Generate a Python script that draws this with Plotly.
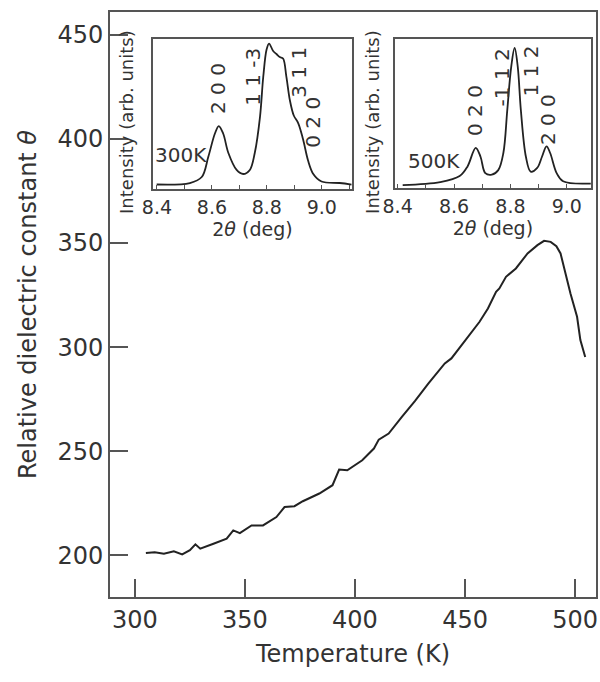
import plotly.graph_objects as go

# Main curve: relative dielectric constant vs temperature
temp_K = [305, 309, 313.2, 317.7, 321.5, 325, 327.5, 329.7, 335.7, 341.7, 344.7, 347.7,
          353, 358.2, 364.3, 368, 372.5, 376.3, 383.8, 389.8, 392.8, 396.5, 403.3,
          408.6, 410.8, 415.3, 421.3, 427.3, 433.3, 440.8, 443.8, 451.4, 456.6,
          460.4, 464.1, 465.6, 468.6, 473.1, 478.4, 482.9, 485.9, 488.9, 491.5,
          493.4, 494.9, 497.9, 500.9, 502.4, 504.6]
dielectric = [201.1, 201.5, 200.8, 202, 200.5, 202.5, 205.3, 203.2, 205.6, 208, 212, 210.7,
              214.4, 214.4, 218.4, 223.2, 223.6, 226, 229.7, 233.7, 241.2, 240.9, 245.7,
              251.3, 255.6, 258.5, 266.5, 274.2, 282.5, 292.2, 294.6, 305, 312.2,
              318.6, 326.6, 328.2, 333.8, 337.8, 345, 349, 351.1, 350.6, 348.5,
              345, 338.6, 325.8, 314.6, 303.4, 295.3]

# Inset 1: XRD profile at 300 K
two_theta_300 = [8.399, 8.52, 8.563, 8.587, 8.611, 8.625, 8.641, 8.66, 8.69, 8.714, 8.738,
                 8.756, 8.775, 8.787, 8.799, 8.808, 8.823, 8.835, 8.847, 8.859, 8.871,
                 8.884, 8.898, 8.914, 8.932, 8.95, 8.969, 8.999, 9.065, 9.108]
intensity_300 = [0.03, 0.04, 0.08, 0.215, 0.37, 0.42, 0.37, 0.24, 0.127, 0.1, 0.127,
                 0.24, 0.48, 0.75, 0.93, 0.97, 0.92, 0.90, 0.88, 0.87, 0.75,
                 0.59, 0.49, 0.44, 0.33, 0.19, 0.10, 0.05, 0.04, 0.03]

# Inset 2: XRD profile at 500 K
two_theta_500 = [8.418, 8.551, 8.62, 8.648, 8.677, 8.694, 8.711, 8.734, 8.757, 8.775, 8.789,
                 8.803, 8.815, 8.826, 8.837, 8.855, 8.872, 8.895, 8.912, 8.928, 8.941,
                 8.964, 8.987, 9.085]
intensity_500 = [0.02, 0.04, 0.08, 0.145, 0.27, 0.21, 0.10, 0.09, 0.12, 0.235, 0.525,
                 0.815, 0.94, 0.815, 0.525, 0.21, 0.11, 0.135, 0.21, 0.28, 0.235,
                 0.10, 0.045, 0.03]

peaks_300 = ["2 0 0", "1 1 -3", "3 1 1", "0 2 0"]
peaks_300_x = [8.622, 8.749, 8.916, 8.967]
peaks_300_y = [0.673, 0.747, 0.78, 0.447]

peaks_500 = ["0 2 0", "-1 1 2", "1 1 2", "2 0 0"]
peaks_500_x = [8.672, 8.769, 8.872, 8.934]
peaks_500_y = [0.519, 0.74, 0.787, 0.457]

inset_ticks = [8.4, 8.6, 8.8, 9.0]
inset_ticktext = ["8.4", "8.6", "8.8", "9.0"]

FONT = "DejaVu Sans, Verdana, sans-serif"
TXT = "#333333"
AX = "#555555"

fig = go.Figure()
fig.add_trace(go.Scatter(x=temp_K, y=dielectric, mode="lines",
                         line=dict(color="#222222", width=2), xaxis="x", yaxis="y",
                         showlegend=False))
fig.add_trace(go.Scatter(x=two_theta_300, y=intensity_300, mode="lines",
                         line=dict(color="#222222", width=1.8, shape="spline"),
                         xaxis="x2", yaxis="y2", showlegend=False))
fig.add_trace(go.Scatter(x=two_theta_500, y=intensity_500, mode="lines",
                         line=dict(color="#222222", width=1.8, shape="spline"),
                         xaxis="x3", yaxis="y3", showlegend=False))

main_ax = dict(showline=True, linecolor=AX, linewidth=2, mirror=True, ticks="inside",
               ticklen=18, tickwidth=2, tickcolor=AX, showgrid=False, zeroline=False,
               tickfont=dict(family=FONT, size=24, color=TXT))
inset_x = dict(showline=True, linecolor=AX, linewidth=1.5, mirror=True, ticks="inside",
               ticklen=4, tickwidth=1, tickcolor=AX, showgrid=False, zeroline=False,
               tickvals=inset_ticks, ticktext=inset_ticktext,
               minor=dict(ticks="inside", ticklen=4, tickcolor=AX, dtick=0.1, showgrid=False),
               tickfont=dict(family=FONT, size=19, color=TXT),
               title=dict(text="2<i>θ</i> (deg)", font=dict(family=FONT, size=19, color=TXT),
                          standoff=0))
inset_y = dict(showline=True, linecolor=AX, linewidth=1.5, mirror=True, ticks="",
               showticklabels=False, showgrid=False, zeroline=False, range=[0, 1])

fig.update_layout(
    width=600, height=682,
    margin=dict(l=110, r=2, t=12, b=85),
    paper_bgcolor="white", plot_bgcolor="white",
    xaxis=dict(main_ax, range=[288.7, 509.5], tickvals=[300, 350, 400, 450, 500],
               domain=[0, 1],
               title=dict(text="Temperature (K)", font=dict(family=FONT, size=24, color=TXT),
                          standoff=12)),
    yaxis=dict(main_ax, range=[180, 461], tickvals=[200, 250, 300, 350, 400, 450],
               domain=[0, 1],
               title=dict(text="Relative dielectric constant <i>θ</i>",
                          font=dict(family=FONT, size=24, color=TXT), standoff=14)),
    xaxis2=dict(inset_x, range=[8.385, 9.11], domain=[0.0881, 0.498], anchor="y2"),
    yaxis2=dict(inset_y, domain=[0.6974, 0.9538], anchor="x2"),
    xaxis3=dict(inset_x, range=[8.39, 9.086], domain=[0.586, 0.9898], anchor="y3"),
    yaxis3=dict(inset_y, domain=[0.6991, 0.9538], anchor="x3"),
)

annotations = []
for xr, yr, lbls, xs, ys, tag, tx, ty in [
        ("x2", "y2", peaks_300, peaks_300_x, peaks_300_y, "300K", 8.489, 0.227),
        ("x3", "y3", peaks_500, peaks_500_x, peaks_500_y, "500K", 8.528, 0.183)]:
    for lbl, px, py in zip(lbls, xs, ys):
        annotations.append(dict(x=px, y=py, xref=xr, yref=yr, text=lbl, textangle=-90,
                                xanchor="center", yanchor="middle",
                                showarrow=False, font=dict(family=FONT, size=20, color=TXT)))
    annotations.append(dict(x=tx, y=ty, xref=xr, yref=yr, text=tag, showarrow=False,
                            xanchor="center", yanchor="middle",
                            font=dict(family=FONT, size=20, color=TXT)))

# Inset y-axis titles
for xpaper in [(126 - 110) / 488, (373 - 110) / 488]:
    annotations.append(dict(x=xpaper, y=1 - (122 - 12) / 585, xref="paper", yref="paper",
                            xanchor="center", yanchor="middle",
                            text="Intensity (arb. units)", textangle=-90, showarrow=False,
                            font=dict(family=FONT, size=18, color=TXT)))
fig.update_layout(annotations=annotations)

fig.write_html("out.html")
